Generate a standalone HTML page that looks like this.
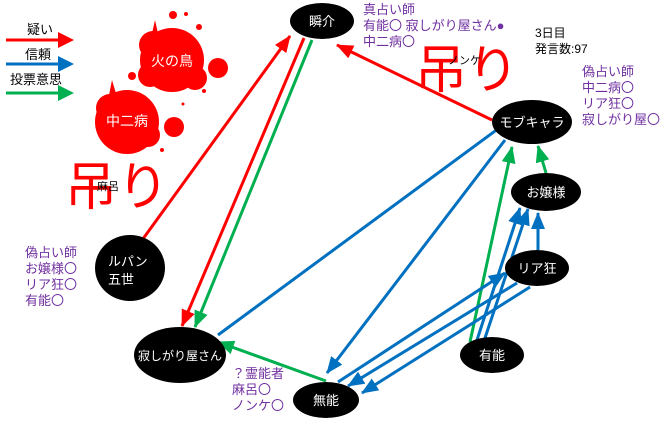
<!DOCTYPE html>
<html><head><meta charset="utf-8"><style>
body{margin:0;background:#fff;width:660px;height:419px;overflow:hidden}
svg text{font-family:"Liberation Sans","Noto Sans CJK JP",sans-serif}
</style></head><body>
<svg width="660" height="419" viewBox="0 0 660 419" xmlns="http://www.w3.org/2000/svg">
<defs>
<marker id="r" markerUnits="userSpaceOnUse" markerWidth="18" markerHeight="14" refX="16" refY="7" orient="auto"><path d="M0,0 L17,7 L0,14 z" fill="#ff0000"/></marker>
<marker id="b" markerUnits="userSpaceOnUse" markerWidth="18" markerHeight="14" refX="16" refY="7" orient="auto"><path d="M0,0 L17,7 L0,14 z" fill="#0070c0"/></marker>
<marker id="g" markerUnits="userSpaceOnUse" markerWidth="18" markerHeight="14" refX="16" refY="7" orient="auto"><path d="M0,0 L17,7 L0,14 z" fill="#00b050"/></marker>
</defs>
<g fill="#ff0000">
<circle cx="172" cy="60" r="32"/><circle cx="153" cy="45" r="14"/><circle cx="195" cy="78" r="12"/><circle cx="150" cy="75" r="12"/><circle cx="218" cy="68" r="10"/>
<circle cx="173" cy="15" r="4"/><circle cx="186" cy="14" r="2"/><circle cx="199" cy="27" r="3"/><circle cx="132" cy="76" r="4"/><circle cx="204" cy="91" r="2"/>
<circle cx="127" cy="122" r="32"/><circle cx="110" cy="108" r="14"/><circle cx="148" cy="135" r="12"/><circle cx="174" cy="127" r="10"/><circle cx="162" cy="150" r="2"/><circle cx="183" cy="104" r="1.5"/>
<path d="M150,42 L155,20 L160,42z M108,100 L112,80 L118,100z"/>
</g>
<text x="172" y="66" font-size="14" fill="#fff" text-anchor="middle">火の鳥</text>
<text x="127" y="126" font-size="14" fill="#fff" text-anchor="middle">中二病</text>
<text x="65" y="205" font-size="52" fill="#ff0000">吊り</text>
<text x="415" y="88" font-size="52" fill="#ff0000">吊り</text>
<text x="97" y="190" font-size="11" fill="#000">麻呂</text>
<text x="448" y="64" font-size="11" fill="#000">ノンケ</text>
<text x="27" y="34" font-size="13" fill="#000">疑い</text>
<text x="25" y="59" font-size="13" fill="#000">信頼</text>
<text x="10" y="84" font-size="13" fill="#000">投票意思</text>
<g stroke-width="3">
<line x1="6" y1="40" x2="60" y2="40" stroke="#ff0000"/>
<line x1="6" y1="64" x2="60" y2="64" stroke="#0070c0"/>
<line x1="6" y1="93" x2="60" y2="93" stroke="#00b050"/>
</g>
<path d="M58,32 L74,40 L58,48z" fill="#ff0000"/>
<path d="M58,56 L74,64 L58,72z" fill="#0070c0"/>
<path d="M58,85 L74,93 L58,101z" fill="#00b050"/>
<g stroke-width="3" fill="none">
<line x1="492" y1="120" x2="337" y2="45" stroke="#ff0000" marker-end="url(#r)"/>
<line x1="140" y1="243" x2="290" y2="36" stroke="#ff0000" marker-end="url(#r)"/>
<line x1="304" y1="38" x2="182" y2="326" stroke="#ff0000" marker-end="url(#r)"/>
<line x1="312" y1="40" x2="195" y2="327" stroke="#00b050" marker-end="url(#g)"/>
<line x1="218" y1="335" x2="510" y2="120" stroke="#0070c0" marker-end="url(#b)"/>
<line x1="505" y1="140" x2="327" y2="373" stroke="#0070c0" marker-end="url(#b)"/>
<line x1="326" y1="381" x2="218" y2="342" stroke="#00b050" marker-end="url(#g)"/>
<line x1="470" y1="342" x2="512" y2="147" stroke="#00b050" marker-end="url(#g)"/>
<line x1="546" y1="173" x2="538" y2="146" stroke="#00b050" marker-end="url(#g)"/>
<line x1="538" y1="250" x2="538" y2="213" stroke="#0070c0" marker-end="url(#b)"/>
<line x1="477" y1="340" x2="520" y2="208" stroke="#0070c0" marker-end="url(#b)"/>
<line x1="484" y1="341" x2="528" y2="209" stroke="#0070c0" marker-end="url(#b)"/>
<line x1="338" y1="382" x2="505" y2="273" stroke="#0070c0" marker-end="url(#b)"/>
<line x1="517" y1="283" x2="348" y2="386" stroke="#0070c0" marker-end="url(#b)"/>
<line x1="530" y1="287" x2="362" y2="393" stroke="#0070c0" marker-end="url(#b)"/>
</g>
<g fill="#000">
<ellipse cx="322" cy="21" rx="32" ry="18"/>
<ellipse cx="532" cy="122" rx="40" ry="22"/>
<ellipse cx="546" cy="192" rx="35" ry="19"/>
<ellipse cx="537" cy="268" rx="32" ry="18"/>
<ellipse cx="492" cy="355" rx="32" ry="18"/>
<ellipse cx="326" cy="400" rx="33" ry="18"/>
<ellipse cx="180" cy="355" rx="46" ry="28"/>
<ellipse cx="130" cy="268" rx="35" ry="33"/>
</g>
<g fill="#fff" font-size="13" text-anchor="middle">
<text x="322" y="26">瞬介</text>
<text x="532" y="127">モブキャラ</text>
<text x="546" y="197">お嬢様</text>
<text x="537" y="273">リア狂</text>
<text x="492" y="360">有能</text>
<text x="326" y="405">無能</text>
<text x="180" y="360" font-size="12">寂しがり屋さん</text>
<text x="108" y="266" text-anchor="start">ルパン</text>
<text x="108" y="284" text-anchor="start">五世</text>
</g>
<g fill="#7030a0" font-size="13">
<text x="363" y="14">真占い師</text>
<text x="363" y="30">有能〇 寂しがり屋さん●</text>
<text x="363" y="46">中二病〇</text>
<text x="582" y="76">偽占い師</text>
<text x="582" y="92">中二病〇</text>
<text x="582" y="108">リア狂〇</text>
<text x="582" y="124">寂しがり屋〇</text>
<text x="25" y="257">偽占い師</text>
<text x="25" y="273">お嬢様〇</text>
<text x="25" y="289">リア狂〇</text>
<text x="25" y="305">有能〇</text>
<text x="232" y="378">？霊能者</text>
<text x="232" y="394">麻呂〇</text>
<text x="232" y="410">ノンケ〇</text>
</g>
<text x="535" y="37" font-size="12" fill="#000">3日目</text>
<text x="535" y="53" font-size="12" fill="#000">発言数:97</text>
</svg>
</body></html>
